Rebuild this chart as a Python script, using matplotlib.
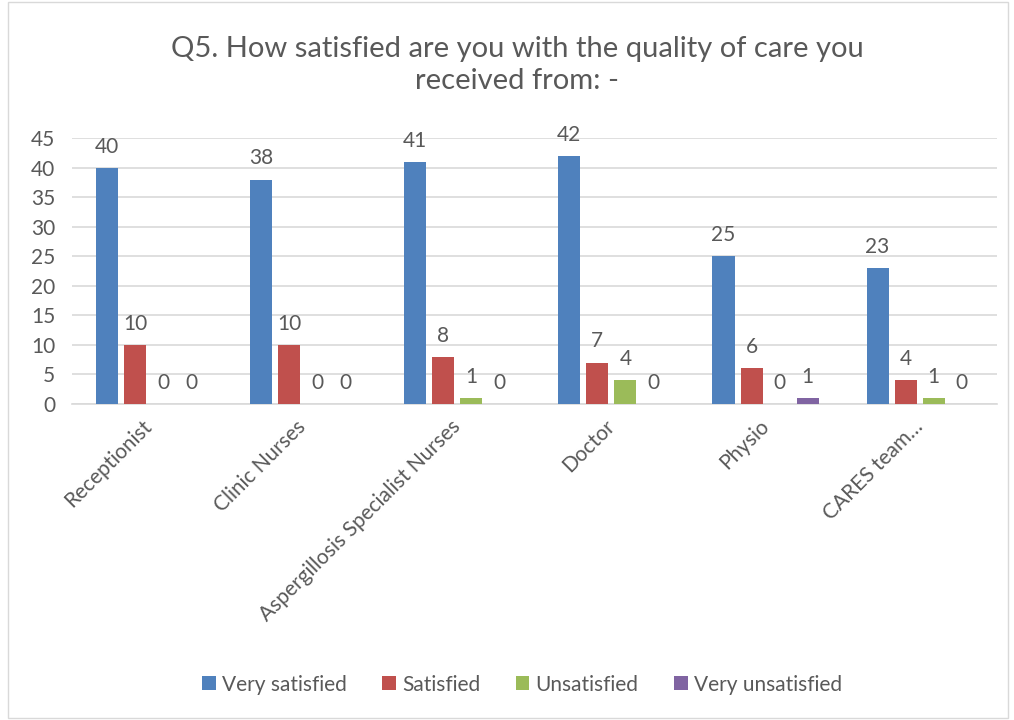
import numpy as np
import matplotlib
matplotlib.use("Agg")
import matplotlib.pyplot as plt
from matplotlib.patches import Rectangle

categories = ["Receptionist", "Clinic Nurses", "Aspergillosis Specialist Nurses",
              "Doctor", "Physio", "CARES team…"]
series_names = ["Very satisfied", "Satisfied", "Unsatisfied", "Very unsatisfied"]
very_satisfied = [40, 38, 41, 42, 25, 23]
satisfied = [10, 10, 8, 7, 6, 4]
unsatisfied = [0, 0, 1, 4, 0, 1]
very_unsatisfied = [0, 0, 0, 0, 1, 0]
colors = ["#4f81bd", "#c0504d", "#9bbb59", "#8064a2"]

plt.rcParams["font.family"] = ["Lato", "DejaVu Sans"]
text_color = "#595959"

fig = plt.figure(figsize=(10.14, 7.2), dpi=100)
ax = fig.add_axes([0.071, 0.439, 0.912, 0.369])

values = [very_satisfied, satisfied, unsatisfied, very_unsatisfied]
x = np.arange(len(categories))
step = 0.182
width = 0.143
for i, (name, vals, c) in enumerate(zip(series_names, values, colors)):
    pos = x + (i - 1.5) * step
    ax.bar(pos, vals, width=width, color=c, label=name, zorder=3)
    for p, v in zip(pos, vals):
        ax.annotate(str(v), (p, v), xytext=(0, 8), textcoords="offset points",
                    ha="center", va="bottom", fontsize=15, color=text_color)

ax.set_xlim(-0.5, len(categories) - 0.5)
ax.set_ylim(0, 45)
ax.set_yticks(range(0, 46, 5))
ax.grid(axis="y", color="#d9d9d9", linewidth=1.2, zorder=0)
for side in ["top", "right", "left"]:
    ax.spines[side].set_visible(False)
ax.spines["bottom"].set_color("#d9d9d9")
ax.spines["bottom"].set_linewidth(1.2)
ax.tick_params(axis="both", length=0, labelsize=15, colors=text_color)
ax.tick_params(axis="y", pad=12)
ax.set_xticks(x)
ax.set_xticklabels(categories, rotation=45, ha="right", va="center",
                   rotation_mode="anchor")
ax.tick_params(axis="x", pad=14)

fig.suptitle("Q5. How satisfied are you with the quality of care you\nreceived from: -",
             x=0.51, y=0.95, fontsize=21, color=text_color, linespacing=1.3)

fig.legend(loc="center", bbox_to_anchor=(0.515, 0.049), ncol=4, frameon=False,
           fontsize=15, handlelength=0.65, handleheight=0.65, handletextpad=0.3,
           columnspacing=1.7, labelcolor=text_color)

fig.patches.append(Rectangle((0.008, 0.003), 0.986, 0.994, transform=fig.transFigure,
                             fill=False, edgecolor="#d9d9d9", linewidth=1))

fig.savefig("out.png", dpi=100)
